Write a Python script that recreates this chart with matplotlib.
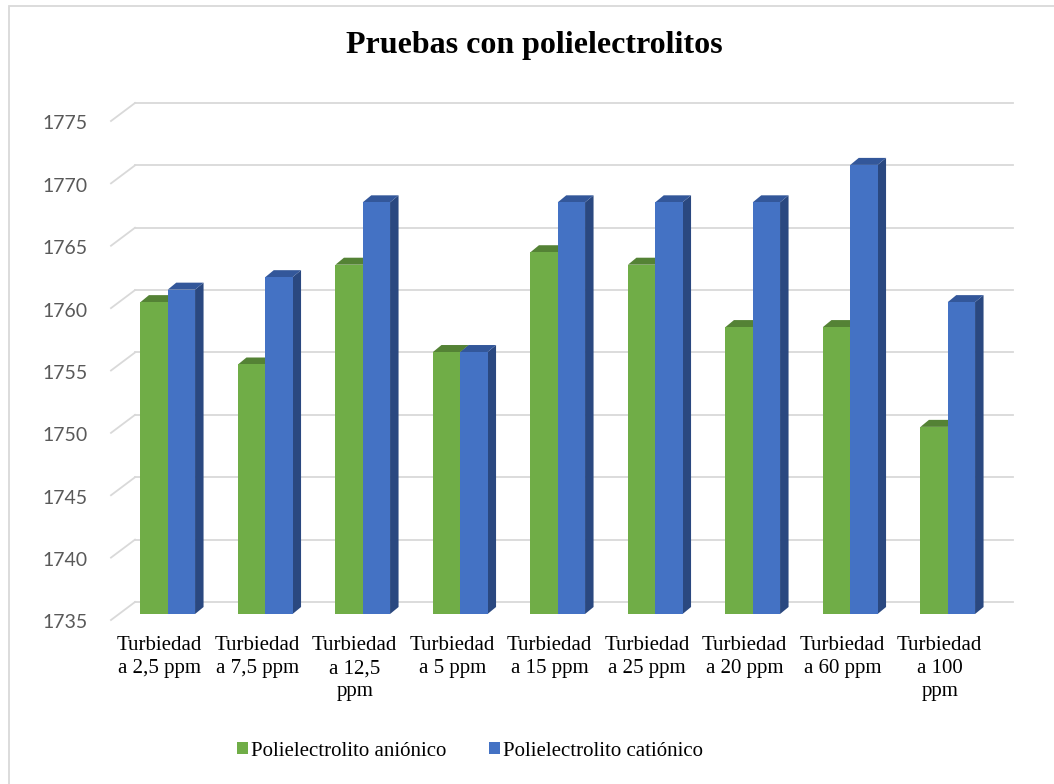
import matplotlib
matplotlib.use("Agg")
import matplotlib.pyplot as plt
from matplotlib.patches import Polygon, Patch, Rectangle
import numpy as np

# datos de turbiedad por dosis de polielectrolito
categorias = ["Turbiedad\na 2,5 ppm", "Turbiedad\na 7,5 ppm", "Turbiedad\na 12,5\nppm",
              "Turbiedad\na 5 ppm", "Turbiedad\na 15 ppm", "Turbiedad\na 25 ppm",
              "Turbiedad\na 20 ppm", "Turbiedad\na 60 ppm", "Turbiedad\na 100\nppm"]
anionico = [1760, 1755, 1763, 1756, 1764, 1763, 1758, 1758, 1750]
cationico = [1761, 1762, 1768, 1756, 1768, 1768, 1768, 1771, 1760]
yticks = [1735, 1740, 1745, 1750, 1755, 1760, 1765, 1770, 1775]

Y0, Y1 = 1735, 1775
W = 1054
H = 784

fig = plt.figure(figsize=(W / 100, H / 100), dpi=100)
ax = fig.add_axes([119 / W, (H - 614) / H, 877.5 / W, (614 - 115) / H])
ax.set_xlim(-0.5, len(categorias) - 0.5)
ax.set_ylim(Y0, Y1)
ax.axis("off")


def px(dx, dy):
    # desplazamiento en pixeles -> unidades de datos
    x0, y0 = ax.transData.transform((0, Y0))
    x1, y1 = ax.transData.inverted().transform((x0 + dx, y0 + dy))
    return x1, y1 - Y0


# pared del fondo y lineas de division
gris = "#D9D9D9"
bx, by = px(16, 12)
fx, fy = px(-8, -6)
xl, xr = ax.get_xlim()
for v in yticks:
    ax.plot([xl + bx, xr + bx], [v + by, v + by], color=gris, lw=1.3, clip_on=False, zorder=1)
    ax.plot([xl + fx, xl + bx], [v + fy, v + by], color=gris, lw=1.3, clip_on=False, zorder=1)
    ax.annotate(str(v), xy=(xl, v), xytext=(-31, -9), textcoords="offset pixels",
                ha="right", va="center", fontsize=14, family="Lato", color="#595959")

# barras con efecto 3D
w = 0.28
dx, dy = px(8.5, 7)
x = np.arange(len(categorias))
series = [(anionico, -w / 2, "#70AD47", "#548235", "#4E7A30"),
          (cationico, w / 2, "#4472C4", "#33579A", "#2A4880")]
z = 2
for i in x:
    for vals, off, c_front, c_top, c_side in series:
        v = vals[i]
        left = i + off - w / 2
        right = i + off + w / 2
        side = Polygon([(right, Y0), (right, v), (right + dx, v + dy), (right + dx, Y0 + dy)],
                       closed=True, facecolor=c_side, edgecolor="none", clip_on=False, zorder=z)
        top = Polygon([(left, v), (right, v), (right + dx, v + dy), (left + dx, v + dy)],
                      closed=True, facecolor=c_top, edgecolor="none", clip_on=False, zorder=z)
        ax.add_patch(side)
        ax.add_patch(top)
        ax.bar(i + off, v - Y0, bottom=Y0, width=w, color=c_front, zorder=z + 0.5, clip_on=False)
        z += 1

for i, lab in zip(x, categorias):
    ax.annotate(lab, xy=(i, Y0), xytext=(-8, -22), textcoords="offset pixels",
                ha="center", va="top", fontsize=15, family="Liberation Serif",
                linespacing=1.3, color="black")

fig.text(534 / W, 1 - 53 / H, "Pruebas con polielectrolitos", ha="center", va="baseline",
         fontsize=23, fontweight="bold", family="Liberation Serif")

handles = [Patch(facecolor="#70AD47"), Patch(facecolor="#4472C4")]
fig.legend(handles, ["Polielectrolito aniónico", "Polielectrolito catiónico"],
           loc="center", bbox_to_anchor=(470 / W, 1 - 751 / H), ncol=2, frameon=False,
           prop={"family": "Liberation Serif", "size": 15},
           handlelength=0.55, handleheight=0.55, handletextpad=0.15, columnspacing=2.0)

# marco del grafico
fig.patches.append(Rectangle((9 / W, -0.05), 1.2, 1 - 6 / H + 0.05, transform=fig.transFigure,
                             fill=False, edgecolor=gris, lw=1.3))

fig.savefig("out.png", dpi=100)
